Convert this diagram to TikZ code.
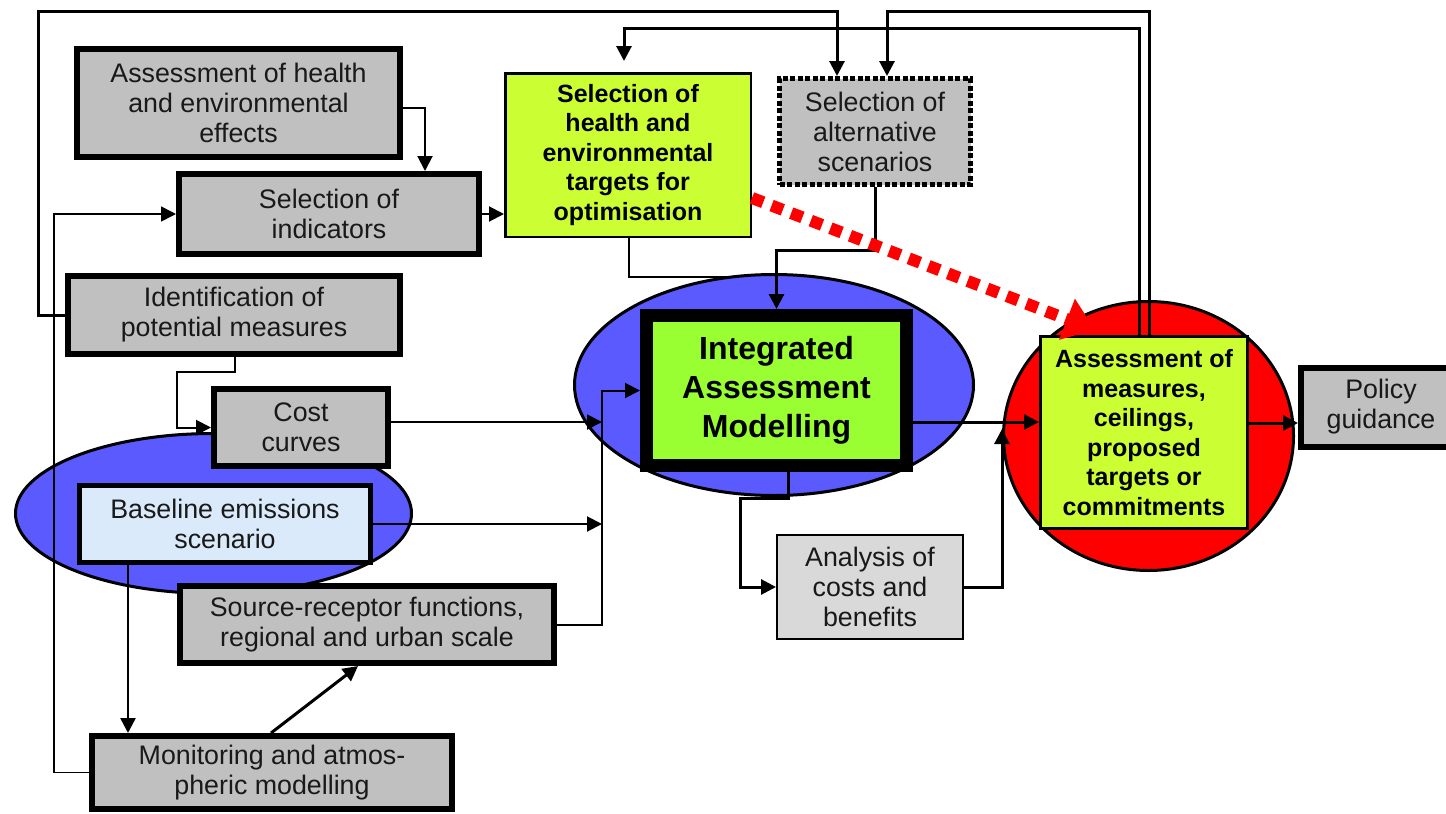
\documentclass[tikz,border=0pt]{standalone}
\usepackage{fontspec}
\setmainfont{Liberation Sans}
\usetikzlibrary{arrows.meta,shapes.geometric,calc}
\definecolor{gfill}{RGB}{192,192,192}
\definecolor{lgfill}{RGB}{217,217,217}
\definecolor{yfill}{RGB}{204,255,51}
\definecolor{iamfill}{RGB}{153,255,51}
\definecolor{bluefill}{RGB}{90,90,255}
\definecolor{basefill}{RGB}{218,234,250}
\definecolor{txt}{RGB}{25,25,25}
\begin{document}
\begin{tikzpicture}[x=1pt,y=-1pt,
  plainbox/.style={draw, rectangle, fill=gfill, line width=6pt, inner sep=0pt,
    text=txt, font=\fontsize{26.8}{30}\selectfont},
  box/.style={plainbox, align=center},
  ybox/.style={box, fill=yfill, text=black, font=\bfseries\fontsize{25}{29.5}\selectfont},
  blob/.style={draw, ellipse, line width=3pt, inner sep=0pt},
  arr/.style={-{Triangle[length=15pt,width=15pt]}, line width=2pt},
  wire/.style={line width=2pt}]
\useasboundingbox (0,0) rectangle (1446,814);
\clip (0,0) rectangle (1446,814);

% yellow target box and the line that runs under the ellipse
\node[ybox, line width=2.5pt, minimum width=245.5pt, minimum height=163.5pt] (sht) at (628,155)
  {Selection of\\health and\\environmental\\targets for\\optimisation};
\coordinate (shtj) at (776.5,277);
\draw[wire] (sht.south -| 629,0) |- (shtj);

% ellipses
\node[blob, fill=bluefill, minimum width=396pt, minimum height=160pt] (e1) at (213.5,513.5) {};
\node[blob, fill=bluefill, minimum width=399pt, minimum height=221pt] (e2) at (774,385) {};
\node[blob, fill=red, minimum width=290pt, minimum height=269pt] (e3) at (1148.5,436) {};

% boxes
\node[box, minimum width=323pt, minimum height=108pt] (ahe) at (238.5,103)
  {Assessment of health\\and environmental\\effects};
\node[box, minimum width=300pt, minimum height=80pt] (ind) at (329,214)
  {Selection of\\indicators};
\node[box, line width=5pt, dash pattern=on 5pt off 2.5pt, minimum width=191pt, minimum height=106pt] (alt) at (875,131.5)
  {Selection of\\alternative\\scenarios};
\node[box, minimum width=332pt, minimum height=78pt] (idm) at (234,315)
  {Identification of\\potential measures};
\node[box, minimum width=174pt, minimum height=77pt] (cost) at (301,427.5)
  {Cost\\curves};
\node[box, line width=5pt, fill=basefill, minimum width=291pt, minimum height=77pt] (base) at (225,524)
  {Baseline emissions\\scenario};
\node[box, minimum width=374pt, minimum height=77pt] (src) at (367,624.5)
  {Source-receptor functions,\\regional and urban scale};
\node[box, minimum width=360pt, minimum height=73pt] (mon) at (272,772.5)
  {Monitoring and atmos-\\pheric modelling};
\node[box, line width=13pt, fill=iamfill, text=black, font=\bfseries\fontsize{32}{39}\selectfont,
  minimum width=260pt, minimum height=150pt] (iam) at (776.5,390.5)
  {Integrated\\Assessment\\Modelling};
\node[box, line width=2pt, fill=lgfill, minimum width=186pt, minimum height=104pt] (ana) at (870,587)
  {Analysis of\\costs and\\benefits};
\node[ybox, line width=3pt, minimum width=207pt, minimum height=192pt] (meas) at (1144,432.5)
  {Assessment of\\measures,\\ceilings,\\proposed\\targets or\\commitments};
\node[plainbox, minimum width=200pt, minimum height=79pt] (pol) at (1401,407.5)
  {\hspace*{-40pt}\begin{tabular}{@{}c@{}}Policy\\guidance\end{tabular}};

% corner coordinates
\coordinate (bus) at (602,390.5);
\coordinate (c54) at (54,214);

% connectors
\draw[arr] (ahe.east |- 0,108) -| (ind.north -| 425,0);
\draw[arr] (ind.east) -- (sht.west |- ind.east);
\draw[arr, line width=3pt] (idm.west) -| (38,11) -| (alt.north -| 837,0);
\draw[arr, line width=3pt] (meas.north -| 1149,0) |- (887,11) -- (alt.north -| 887,0);
\draw[arr, line width=3pt, shorten >=11pt] (meas.north -| 1139,0) |- (624,28) -- (sht.north -| 624,0);
\draw[arr, line width=3pt] (alt.south -| 875,0) |- (776.5,250) -- (iam.north);
\draw[red, line width=12pt, dash pattern=on 12pt off 9pt, -{Triangle[length=30pt,width=42pt]}]
  (sht.east |- 0,198) -- (1095,330);
\draw[arr] (idm.south -| 235,0) |- (177,372) |- (cost.west);
\draw[arr] (cost.east |- 0,422) -- (bus |- 0,422);
\draw[arr] (base.east) -- (bus |- base.east);
\draw[arr] (src.east) -| (bus) -- (iam.west);
\draw[arr, line width=3pt] (iam.south -| 788,0) |- (740,498) |- (ana.west);
\draw[arr, line width=3pt] (ana.east) -| (1002,429);
\draw[arr, line width=3pt] (iam.east |- 0,422) -- (meas.west |- 0,422);
\draw[arr, line width=3pt] (meas.east |- 0,423) -- (pol.west |- 0,423);
\draw[arr, line width=2.5pt] (base.south -| 128,0) -- (mon.north -| 128,0);
\draw[arr, line width=3pt] (mon.north -| 271,0) -- (src.south -| 358,0);
\draw[arr, line width=1.5pt] (mon.west) -| (c54) -- (ind.west);
\end{tikzpicture}
\end{document}
